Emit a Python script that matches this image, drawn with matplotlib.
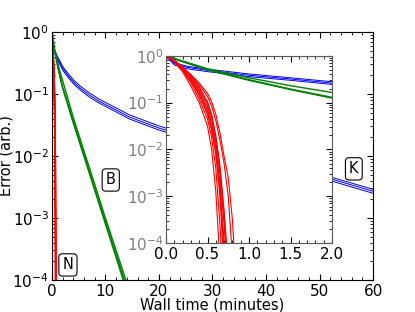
import numpy as np
import matplotlib
matplotlib.use("Agg")
import matplotlib.pyplot as plt
from matplotlib.ticker import AutoMinorLocator, LogLocator, NullFormatter

# blue (K) runs
t_blue = [0, 0.1, 0.25, 0.5, 1, 1.5, 2, 2.5, 3.2, 4.3, 5.5, 7, 9, 11, 14.5, 20, 30, 40, 52, 60]
blue_runs = [
    [1, 0.72, 0.60, 0.52, 0.41, 0.34, 0.28, 0.245, 0.205, 0.160, 0.130, 0.104, 0.081, 0.066, 0.046, 0.0305, 0.0168, 0.0092, 0.0046, 0.0029],
    [1, 0.68, 0.57, 0.49, 0.385, 0.32, 0.262, 0.228, 0.190, 0.148, 0.120, 0.096, 0.075, 0.061, 0.0425, 0.0282, 0.0155, 0.0085, 0.0043, 0.0027],
    [1, 0.64, 0.53, 0.46, 0.36, 0.30, 0.245, 0.212, 0.177, 0.138, 0.112, 0.089, 0.070, 0.057, 0.0395, 0.0262, 0.0144, 0.0079, 0.0040, 0.0025],
]

# green (B) runs
t_green = [0, 0.1, 0.25, 0.5, 1, 1.5, 2, 4, 6, 8, 10, 12, 14]
green_runs = [
    [1, 0.86, 0.70, 0.50, 0.30, 0.19, 0.125, 0.034, 0.0098, 0.0028, 8.0e-4, 2.3e-4, 6.5e-5],
    [1, 0.87, 0.71, 0.51, 0.31, 0.195, 0.130, 0.036, 0.0105, 0.0030, 8.8e-4, 2.6e-4, 7.5e-5],
    [1, 0.88, 0.73, 0.53, 0.34, 0.23, 0.165, 0.042, 0.0120, 0.0035, 1.0e-3, 3.0e-4, 9.0e-5],
]

# red (N) runs, log10 of error
t_red = [0, 0.1, 0.2, 0.3, 0.4, 0.5, 0.55, 0.6, 0.65, 0.7, 0.75, 0.8, 0.85]
red_log = [
    [0, -0.13, -0.34, -0.65, -1.00, -1.50, -2.00, -2.90, -4.40, -6, -6, -6, -6],
    [0, -0.12, -0.31, -0.58, -0.92, -1.35, -1.75, -2.40, -3.60, -5.2, -6, -6, -6],
    [0, -0.11, -0.29, -0.54, -0.85, -1.25, -1.60, -2.10, -3.00, -4.6, -6, -6, -6],
    [0, -0.11, -0.28, -0.50, -0.78, -1.15, -1.45, -1.95, -2.70, -4.0, -6, -6, -6],
    [0, -0.10, -0.27, -0.47, -0.74, -1.08, -1.38, -1.85, -2.55, -3.6, -5.0, -6, -6],
    [0, -0.10, -0.25, -0.44, -0.70, -1.02, -1.30, -1.75, -2.40, -3.4, -4.8, -6, -6],
    [0, -0.10, -0.24, -0.42, -0.66, -0.98, -1.25, -1.70, -2.35, -3.3, -4.5, -6, -6],
    [0, -0.10, -0.27, -0.52, -0.82, -1.20, -1.55, -2.05, -2.90, -4.2, -6, -6, -6],
    [0, -0.10, -0.24, -0.40, -0.58, -0.80, -0.98, -1.25, -1.65, -2.15, -2.60, -3.5, -5.0],
    [0, -0.10, -0.25, -0.42, -0.62, -0.87, -1.07, -1.38, -1.80, -2.30, -3.00, -4.3, -6],
]

labels = ["N", "B", "K"]
label_x = [3.0, 11.0, 56.4]
label_y = [1.75e-4, 4.1e-3, 6.2e-3]


def style_axes(ax, ycolor="black"):
    ax.set_yscale("log")
    ax.set_ylim(1e-4, 1)
    ax.yaxis.set_major_locator(LogLocator(base=10))
    ax.yaxis.set_minor_locator(LogLocator(base=10, subs=np.arange(2, 10)))
    ax.yaxis.set_minor_formatter(NullFormatter())
    ax.xaxis.set_minor_locator(AutoMinorLocator(5))
    ax.tick_params(which="both", direction="in", top=True, right=True, labelsize=11)
    ax.tick_params(which="major", length=4, pad=3)
    ax.tick_params(which="minor", length=2)
    ax.tick_params(axis="y", labelcolor=ycolor, pad=2)


def draw_runs(ax):
    for e in blue_runs:
        ax.plot(t_blue, e, color="blue", lw=0.7)
    for e in green_runs:
        ax.plot(t_green, e, color="green", lw=1.0)
    for lg in red_log:
        ax.plot(t_red, 10 ** np.array(lg), color="red", lw=0.8)


fig = plt.figure(figsize=(4.15, 3.12), dpi=100)
ax = fig.add_axes([0.125, 0.1026, 0.774, 0.7949])
draw_runs(ax)
style_axes(ax)
ax.set_xlim(0, 60)
ax.set_xticks([0, 10, 20, 30, 40, 50, 60])
ax.set_xlabel("Wall time (minutes)", fontsize=10.5, labelpad=-1)
ax.set_ylabel("Error (arb.)", fontsize=10.5)
ax.yaxis.set_label_coords(-0.118, 0.5)
for s, x, y in zip(labels, label_x, label_y):
    ax.text(x, y, s, fontsize=10.5, ha="center", va="center",
            bbox=dict(boxstyle="round,pad=0.25", fc="white", ec="black", lw=0.8))

ins = fig.add_axes([0.4, 0.221, 0.4, 0.6])
draw_runs(ins)
style_axes(ins, ycolor="gray")
ins.set_xlim(0, 2)
ins.set_xticks([0, 0.5, 1.0, 1.5, 2.0])
for sp in ins.spines.values():
    sp.set_color("0.35")

fig.savefig("out.png", dpi=100)
